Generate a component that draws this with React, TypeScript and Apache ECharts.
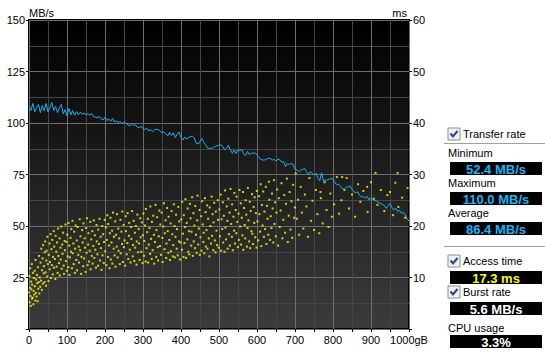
import React, { useEffect, useRef } from "react";
import * as echarts from "echarts";

// Transfer rate (MB/s), one sample every 5 gB from 0 to 1000
const sampleStepGB = 5;
const transferRate = [
  108, 106, 109.5, 105.5, 107.5, 109, 105, 108.5, 106, 109.5, 105.5, 107.5, 110, 106, 108, 105, 107.5, 109, 104.5, 106.5, 103.5,
  107, 104, 106, 103.8, 105.5, 104, 105.2, 104.3, 104.8, 104, 104.5, 103.8, 104.6, 103,
  102.8, 102.5, 103.2, 102, 101.5, 102.8, 101.2, 102, 100.8, 102.2, 100.5, 101, 100.2, 100.8, 99.5, 100.6,
  99.8, 99.2, 98.5, 99.8, 98.8, 99.2, 98, 97.8, 98.5, 97.2, 96.8, 97.5, 96.2, 96.8, 95.8, 96.6,
  97, 96.8, 96, 95.4, 95.6, 94.8, 93.8, 95.5, 94, 95.2, 93, 94.5, 95.6, 93, 91.8, 93.2, 92.2, 93, 93.4, 93.6,
  92.8, 90.2, 89.8, 91, 92.4, 90.6, 89.4, 87.8, 87.7, 87.7, 88, 88.6, 89, 89.2, 89.5, 88.5, 86.9, 87.8, 89.2, 87,
  85.3, 86.9, 85.2, 87, 86.5, 87.2, 85, 84.2, 86.2, 84.6, 85.4, 85.3, 85.5, 84.5, 83.2, 82.4, 82, 82, 82.5, 82.8,
  83, 82, 82.3, 81.6, 82.5, 82.1,
  81, 81.2, 78.8, 80.4, 79.8, 80.4, 80, 77.5, 77.2, 76.4, 77.2, 77.4, 78, 76.4, 75, 76.4, 75.6, 74.7, 75.6, 73.4,
  72, 75.8, 71.8, 72.3, 72.3, 72.8, 73, 72.8, 71, 70.2, 70.2, 69.1, 68.2, 67.9, 68.6, 69.1, 69.4, 67.8, 66.7, 66.2,
  66.5, 64.8, 64.2, 64.2, 63.6, 64.4, 62.6, 63.8, 62.6, 62.6, 62, 61.4, 61, 60.5, 60, 58.6, 59.8, 61, 59, 57.8,
  58.6, 57, 57.6, 56.2, 56.6, 55.4, 53.5, 52.4,
];

// Access time samples: [position gB, ms]
const accessTime = [
  [0.5,7.1],[1.2,10.3],[1.8,5.2],[2.9,8.0],[3.3,11.8],[4.1,6.4],[4.6,4.5],[5.7,9.2],[6.2,7.7],[7.4,12.6],[7.9,5.9],[8.5,8.6],[9.8,6.1],[10.2,10.9],[11.5,4.8],[12.1,7.4],[12.8,9.9],[13.6,6.7],[14.9,11.3],[15.3,8.3],[16.6,5.5],[17.2,13.4],[18.0,7.0],[18.7,9.6],[19.9,6.3],[21.1,10.5],[21.6,8.9],[22.8,5.4],[23.5,12.0],[24.4,7.8],[25.7,9.1],[26.3,14.2],[27.0,6.9],[28.2,10.0],[29.6,8.2],
  [30.4,12.9],[31.7,9.4],[32.3,15.6],[33.8,7.6],[34.2,11.4],[35.9,13.7],[36.5,8.8],[37.1,16.3],[38.6,10.8],[39.4,12.2],[40.8,9.1],[41.3,14.9],[42.7,17.0],[43.6,11.0],[44.9,8.4],[45.5,13.3],[46.2,15.2],[47.8,10.2],[48.4,17.9],[49.7,12.6],[51.3,9.3],[52.1,14.4],[53.9,16.6],[54.6,11.6],[55.2,13.0],[56.8,18.4],[57.5,9.9],[58.9,15.5],[60.3,12.4],[61.1,17.3],[62.6,10.6],[63.2,14.0],[64.9,19.0],[65.7,11.9],[66.4,16.0],[68.0,13.6],[69.3,9.7],[70.1,18.1],[71.8,15.0],[72.5,12.1],[73.9,16.8],[75.2,10.9],[76.6,19.5],[77.3,14.2],[78.8,12.8],[80.4,17.6],[81.0,10.4],[82.7,15.8],[83.5,13.5],[84.9,19.9],[86.2,11.7],[87.6,16.4],[88.3,14.6],[89.8,18.7],[91.4,12.3],[92.0,10.7],[93.7,17.1],[94.5,15.3],[95.9,20.3],[97.2,13.2],[98.6,16.9],[99.4,11.3],
  [100.7,18.3],[101.9,14.1],[103.3,12.0],[104.1,20.6],[105.8,16.2],[106.4,10.5],[107.6,13.9],[109.2,17.7],[110.5,15.0],[111.3,19.4],[112.9,11.8],[114.4,21.0],[115.1,14.7],[116.7,16.6],[117.5,12.6],[119.0,18.9],[120.6,10.9],[121.4,15.6],[122.8,20.1],[124.3,13.4],[125.6,17.2],[126.2,11.4],[127.9,19.8],[129.5,14.4],[130.8,16.0],[131.6,12.9],[133.4,21.3],[134.7,15.3],[135.5,18.0],[137.2,10.7],[138.1,14.0],[139.8,19.2],[141.3,16.8],[142.6,12.2],[143.2,20.5],[145.0,13.7],[146.5,17.6],[147.3,15.8],[148.9,11.1],[150.4,19.6],[151.7,14.8],[152.5,21.5],[154.2,12.4],[155.8,16.4],[156.6,18.6],[158.1,13.1],[159.9,15.2],[161.3,20.8],[162.0,11.6],[163.8,17.4],[165.2,14.2],[166.7,19.0],[167.5,12.7],[169.1,16.1],[170.6,21.1],[171.9,13.8],[173.3,18.2],[174.5,15.4],[176.2,11.9],[177.8,20.2],[178.4,17.0],[180.1,14.5],[181.7,12.3],[182.3,19.3],[184.0,16.5],[185.6,21.4],[186.9,13.3],[188.4,17.9],[189.2,15.7],[191.0,11.5],[192.7,20.0],[193.5,14.3],[195.1,18.4],[196.8,12.8],[197.4,16.9],[199.3,21.2],
  [200.6,15.1],[202.2,19.7],[203.7,12.4],[204.5,17.3],[206.1,22.1],[207.8,14.0],[208.4,20.4],[210.3,16.2],[211.9,11.8],[212.6,18.6],[214.4,21.6],[215.2,13.5],[217.0,16.8],[218.7,19.1],[219.3,12.7],[221.1,22.6],[222.8,15.6],[223.5,17.9],[225.3,14.3],[226.9,20.9],[227.6,12.1],[229.2,18.3],[230.8,16.0],[231.5,22.3],[233.4,13.9],[234.9,19.5],[235.7,15.2],[237.3,17.6],[239.0,12.6],[240.6,21.2],[241.4,14.7],[243.1,18.9],[244.7,16.5],[245.5,22.8],[247.2,13.0],[248.9,20.2],[249.6,15.9],[251.4,17.2],[253.0,12.3],[254.6,21.9],[255.3,19.0],[257.1,14.5],[258.8,16.7],[259.4,22.5],[261.2,13.6],[262.9,18.1],[263.7,20.6],[265.3,15.4],[267.0,12.9],[268.7,19.8],[269.4,17.5],[271.2,22.9],[272.8,14.1],[273.6,16.3],[275.4,21.0],[277.1,13.2],[278.7,18.7],[279.5,15.8],[281.3,20.0],[282.9,12.5],[283.6,17.0],[285.4,22.2],[287.1,14.9],[288.8,19.4],[289.5,16.6],[291.3,13.4],[292.9,21.5],[293.7,17.8],[295.4,15.0],[297.2,20.7],[298.8,12.8],[299.5,18.2],
  [300.9,22.4],[302.6,14.2],[303.4,17.1],[305.2,20.1],[306.9,13.1],[307.6,23.3],[309.4,15.7],[311.1,18.8],[312.7,21.4],[313.5,12.9],[315.3,16.4],[317.0,19.6],[318.7,14.6],[319.4,23.8],[321.2,17.5],[322.9,13.6],[323.6,20.8],[325.4,15.3],[327.1,22.0],[328.8,18.3],[329.5,12.7],[331.3,16.9],[333.0,24.1],[334.7,14.0],[335.5,19.2],[337.2,21.7],[338.9,15.9],[339.6,13.3],[341.4,18.0],[343.1,23.0],[344.8,16.1],[345.6,20.3],[347.3,14.4],[349.0,22.6],[350.7,17.7],[351.5,13.0],[353.3,19.9],[355.0,24.4],[356.7,15.5],[357.4,18.6],[359.2,21.1],[360.9,13.8],[361.7,16.6],[363.4,23.5],[365.1,19.0],[366.8,14.8],[367.6,21.8],[369.3,17.3],[371.0,13.4],[372.7,20.5],[373.5,15.1],[375.3,22.9],[377.0,18.4],[378.7,14.1],[379.5,16.3],[381.2,24.2],[382.9,20.0],[383.7,13.9],[385.4,17.9],[387.1,22.2],[388.8,15.6],[389.6,19.4],[391.3,14.3],[393.0,23.7],[394.8,17.0],[395.5,20.9],[397.2,13.5],[398.9,16.8],
  [400.7,21.3],[402.4,15.4],[403.2,24.7],[404.9,18.5],[406.6,14.0],[407.4,22.1],[409.1,16.7],[410.8,19.8],[411.6,25.2],[413.3,13.8],[415.0,20.6],[416.7,17.4],[417.5,23.4],[419.2,15.0],[420.9,19.0],[421.7,14.5],[423.4,24.3],[425.1,21.5],[426.8,16.2],[427.6,18.9],[429.3,25.6],[431.0,14.2],[432.7,22.5],[433.5,17.0],[435.2,20.1],[436.9,15.7],[437.7,23.9],[439.4,18.3],[441.1,14.8],[442.8,21.1],[443.6,25.9],[445.3,16.4],[447.0,19.5],[448.7,23.1],[449.5,14.4],[451.2,17.8],[452.9,21.9],[453.7,15.2],[455.4,24.8],[457.1,20.3],[458.8,16.9],[459.6,18.7],[461.3,14.7],[463.0,25.4],[464.7,22.7],[465.5,16.0],[467.2,19.2],[468.9,24.0],[469.7,15.6],[471.4,21.4],[473.1,17.6],[474.8,14.1],[475.6,23.6],[477.3,20.0],[479.0,16.6],[480.7,25.7],[481.5,18.1],[483.2,22.3],[484.9,15.3],[485.7,20.7],[487.4,24.5],[489.1,17.2],[490.8,14.9],[491.6,22.8],[493.3,19.1],[495.0,16.3],[496.7,25.0],[497.5,21.2],[499.2,15.8],
  [500.9,23.2],[502.6,18.0],[504.3,26.1],[505.1,15.2],[506.8,21.3],[508.5,19.4],[510.2,24.6],[511.0,16.8],[512.7,22.0],[514.4,15.0],[516.1,26.9],[516.9,19.7],[518.6,17.4],[520.3,23.8],[522.0,21.0],[522.8,15.6],[524.5,25.3],[526.2,18.4],[527.9,22.6],[528.7,16.2],[530.4,27.2],[532.1,20.4],[533.8,17.9],[534.6,24.2],[536.3,15.3],[538.0,21.8],[539.7,19.1],[540.5,26.4],[542.2,16.6],[543.9,23.1],[545.6,18.6],[546.4,25.7],[548.1,20.8],[549.8,15.9],[551.5,22.4],[552.3,17.3],[554.0,27.0],[555.7,19.9],[557.4,24.4],[558.2,16.4],[559.9,21.6],[561.6,18.2],[563.3,26.6],[564.1,15.4],[565.8,23.5],[567.5,20.2],[569.2,17.6],[570.0,25.0],[571.7,22.2],[573.4,16.0],[575.1,19.6],[575.9,27.4],[577.6,21.1],[579.3,17.0],[581.0,24.7],[581.8,15.7],[583.5,22.9],[585.2,19.0],[586.9,26.2],[587.7,18.5],[589.4,16.5],[591.1,23.7],[592.8,20.6],[593.6,25.6],[595.3,17.8],[597.0,22.5],[598.7,15.8],[599.5,26.8],
  [601.3,20.9],[603.1,17.2],[604.9,25.8],[606.2,22.3],[608.0,18.9],[609.7,28.1],[611.4,16.1],[612.8,24.1],[614.6,20.1],[616.3,26.7],[618.1,17.9],[619.5,22.8],[621.2,19.4],[623.0,27.6],[624.7,16.5],[626.1,23.9],[627.9,21.4],[629.6,18.3],[631.3,28.6],[632.7,25.1],[634.5,17.3],[636.2,21.9],[638.0,19.6],[639.4,26.3],[641.1,23.4],[642.9,16.8],[644.6,28.9],[646.0,20.4],[647.8,24.6],[649.5,18.0],[651.2,22.6],[653.0,27.1],[655.7,16.2],[657.3,25.4],[659.8,19.8],[662.1,23.0],[664.5,28.3],[666.9,17.6],[669.2,21.2],[671.6,26.0],[673.9,18.7],[676.3,24.3],[678.7,29.2],[681.0,16.9],[683.4,22.0],[685.8,26.6],[688.1,19.3],[690.5,24.8],[692.9,17.7],[695.2,28.0],[697.6,21.6],[699.4,23.6],
  [702,30.2],[705,21.4],[708,25.1],[711,18.3],[715,27.6],[718,22.6],[722,19.5],[726,26.1],[730,23.8],[734,17.9],[738,29.3],[742,21.0],[746,24.9],[750,19.2],[755,27.0],[759,22.3],[764,18.6],[767,26.6],[768,25.4],[773,20.5],[778,28.5],[783,23.1],[788,19.8],[793,26.3],[797,21.8],
  [803,24.2],[810,29.5],[816,22.4],[822,25.0],[824,29.5],[830,27.0],[836,29.3],[842,23.4],[850,26.1],[858,21.8],[866,28.1],[872,24.7],[880,26.8],[890,27.6],[891,22.7],[900,28.5],[908,25.3],[912,30.3],[917,24.1],[926,27.0],[935,22.9],[943,26.0],[950,26.6],[958,22.1],[964,28.4],[970,30.3],[972,23.7],[982,25.5],[990,21.6],[996,27.4],
];

const statMinimum = "52.4 MB/s";
const statMaximum = "110.0 MB/s";
const statAverage = "86.4 MB/s";
const statAccess = "17.3 ms";
const statBurst = "5.6 MB/s";
const statCpu = "3.3%";

const FONT = "Liberation Sans, Arial, sans-serif";

function checkbox(cx: number, cy: number) {
  return [
    {
      type: "rect",
      shape: { x: cx - 6, y: cy - 6, width: 12, height: 12 },
      style: { fill: "#f2f2f2", stroke: "#8e8f8f", lineWidth: 1 },
    },
    {
      type: "polyline",
      shape: { points: [[cx - 3.5, cy - 0.5], [cx - 1, cy + 2.5], [cx + 3.5, cy - 3]] },
      style: { stroke: "#23468c", lineWidth: 2, fill: null },
    },
  ];
}

function label(x: number, y: number, text: string) {
  return {
    type: "text",
    x,
    y,
    style: { text, font: `11px ${FONT}`, fill: "#000", align: "left", verticalAlign: "middle" },
  };
}

function valueBox(y: number, text: string, color: string) {
  return [
    { type: "rect", shape: { x: 450, y, width: 92, height: 13 }, style: { fill: "#000" } },
    {
      type: "text",
      x: 496,
      y: y + 7,
      style: { text, font: `bold 13px ${FONT}`, fill: color, align: "center", verticalAlign: "middle" },
    },
  ];
}

export default function App() {
  const ref = useRef<HTMLDivElement>(null);
  useEffect(() => {
    if (!ref.current) return;
    const chart = echarts.init(ref.current, null, { renderer: "svg" });
    const lineData = transferRate.map((v, i) => [i * sampleStepGB, v]);
    const axisLabelBase = { color: "#000", fontSize: 11, fontFamily: FONT };
    chart.setOption({
      animation: false,
      backgroundColor: "#ffffff",
      grid: {
        left: 29,
        right: 136,
        top: 20,
        bottom: 26,
        show: true,
        backgroundColor: new echarts.graphic.LinearGradient(0, 0, 0, 1, [
          { offset: 0, color: "#000000" },
          { offset: 1, color: "#3c3c3c" },
        ]),
        borderColor: "#000",
        borderWidth: 2,
      },
      xAxis: {
        type: "value",
        min: 0,
        max: 1000,
        interval: 100,
        axisLine: { show: false },
        axisTick: { show: true, length: 3, lineStyle: { color: "#000" } },
        minorTick: { show: true, splitNumber: 2, length: 3, lineStyle: { color: "#000" } },
        splitLine: { show: true, lineStyle: { color: "#6e6e6e", width: 1 } },
        minorSplitLine: { show: true, lineStyle: { color: "#464646", width: 1 } },
        axisLabel: {
          ...axisLabelBase,
          margin: 5,
          formatter: (v: number) => (v === 1000 ? "1000gB" : String(v)),
        },
      },
      yAxis: [
        {
          type: "value",
          min: 0,
          max: 150,
          interval: 25,
          position: "left",
          axisLine: { show: false },
          axisTick: { show: true, length: 3, lineStyle: { color: "#000" } },
          splitLine: { show: true, lineStyle: { color: "#6e6e6e", width: 1 } },
          minorTick: { show: false, splitNumber: 2 },
          minorSplitLine: { show: true, lineStyle: { color: "#464646", width: 1 } },
          axisLabel: { ...axisLabelBase, margin: 4, formatter: (v: number) => (v === 0 ? "" : String(v)) },
        },
        {
          type: "value",
          min: 0,
          max: 60,
          interval: 10,
          position: "right",
          axisLine: { show: false },
          axisTick: { show: true, length: 3, lineStyle: { color: "#000" } },
          splitLine: { show: false },
          axisLabel: { ...axisLabelBase, margin: 4, formatter: (v: number) => (v === 0 ? "" : String(v)) },
        },
      ],
      series: [
        {
          type: "scatter",
          yAxisIndex: 1,
          data: accessTime,
          symbol: "rect",
          symbolSize: 2,
          itemStyle: { color: "#ffff00" },
          z: 2,
        },
        {
          type: "line",
          yAxisIndex: 0,
          data: lineData,
          showSymbol: false,
          symbol: "none",
          lineStyle: { color: "#1eb0f0", width: 1 },
          z: 3,
        },
      ],
      graphic: [
        {
          type: "text",
          x: 29,
          y: 13,
          style: { text: "MB/s", font: `11px ${FONT}`, fill: "#000", align: "left", verticalAlign: "middle" },
        },
        {
          type: "text",
          x: 407,
          y: 13,
          style: { text: "ms", font: `11px ${FONT}`, fill: "#000", align: "right", verticalAlign: "middle" },
        },
        ...checkbox(454, 134),
        label(463, 134, "Transfer rate"),
        { type: "line", shape: { x1: 444, y1: 143.5, x2: 545, y2: 143.5 }, style: { stroke: "#a0a0a0", lineWidth: 1 } },
        label(448, 153, "Minimum"),
        ...valueBox(162, statMinimum, "#19b6f5"),
        label(448, 183, "Maximum"),
        ...valueBox(192, statMaximum, "#19b6f5"),
        label(448, 213, "Average"),
        ...valueBox(222, statAverage, "#19b6f5"),
        { type: "line", shape: { x1: 444, y1: 246.5, x2: 545, y2: 246.5 }, style: { stroke: "#a0a0a0", lineWidth: 1 } },
        ...checkbox(454, 261),
        label(463, 261, "Access time"),
        ...valueBox(271, statAccess, "#ffff00"),
        ...checkbox(454, 292),
        label(463, 292, "Burst rate"),
        ...valueBox(302, statBurst, "#ffffff"),
        label(448, 328, "CPU usage"),
        ...valueBox(335, statCpu, "#ffffff"),
      ],
    });
    return () => chart.dispose();
  }, []);
  return (
    <div
      ref={ref}
      style={{ position: "fixed", left: 0, top: 0, width: 545, height: 355, background: "#fff" }}
    />
  );
}
